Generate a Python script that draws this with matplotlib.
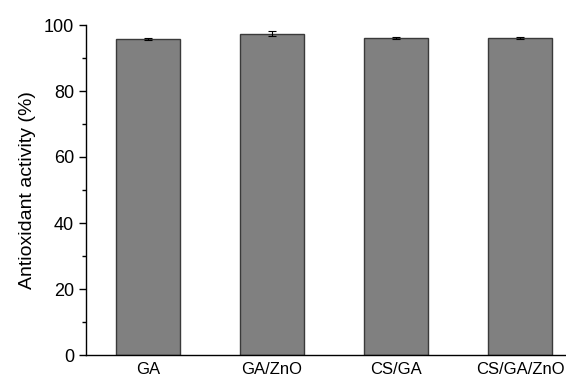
import matplotlib
matplotlib.use("Agg")
import matplotlib.pyplot as plt
from matplotlib.ticker import MultipleLocator

categories = ["GA", "GA/ZnO", "CS/GA", "CS/GA/ZnO"]
values = [95.8, 97.4, 96.1, 96.2]
errors = [0.4, 0.7, 0.4, 0.3]

plt.rcParams['font.family'] = ['Liberation Sans', 'DejaVu Sans']

fig = plt.figure(figsize=(5.66, 3.78), dpi=100)
ax = fig.add_axes([86/566, 1 - 355/378, 496/566, 330/378])

x = range(len(categories))
ax.bar(x, values, width=0.51, color="#808080", edgecolor="#3a3a3a", linewidth=1.0,
       yerr=errors, capsize=3, error_kw=dict(ecolor="black", elinewidth=0.8, capthick=0.8))

ax.set_xlim(-0.5, 3.5)
ax.set_ylim(0, 100)
ax.set_xticks(list(x))
ax.set_xticklabels(categories, fontsize=12)
ax.yaxis.set_major_locator(MultipleLocator(20))
ax.yaxis.set_minor_locator(MultipleLocator(10))
ax.tick_params(axis='y', which='major', length=5, width=1, labelsize=13, direction='out')
ax.tick_params(axis='y', which='minor', length=3, width=1, direction='out')
ax.tick_params(axis='x', length=0, pad=5)
ax.set_ylabel("Antioxidant activity (%)", fontsize=14, labelpad=6)
for s in ['top', 'right']:
    ax.spines[s].set_visible(False)
ax.spines['left'].set_linewidth(1)
ax.spines['bottom'].set_linewidth(1)

fig.savefig("out.png", dpi=100)
